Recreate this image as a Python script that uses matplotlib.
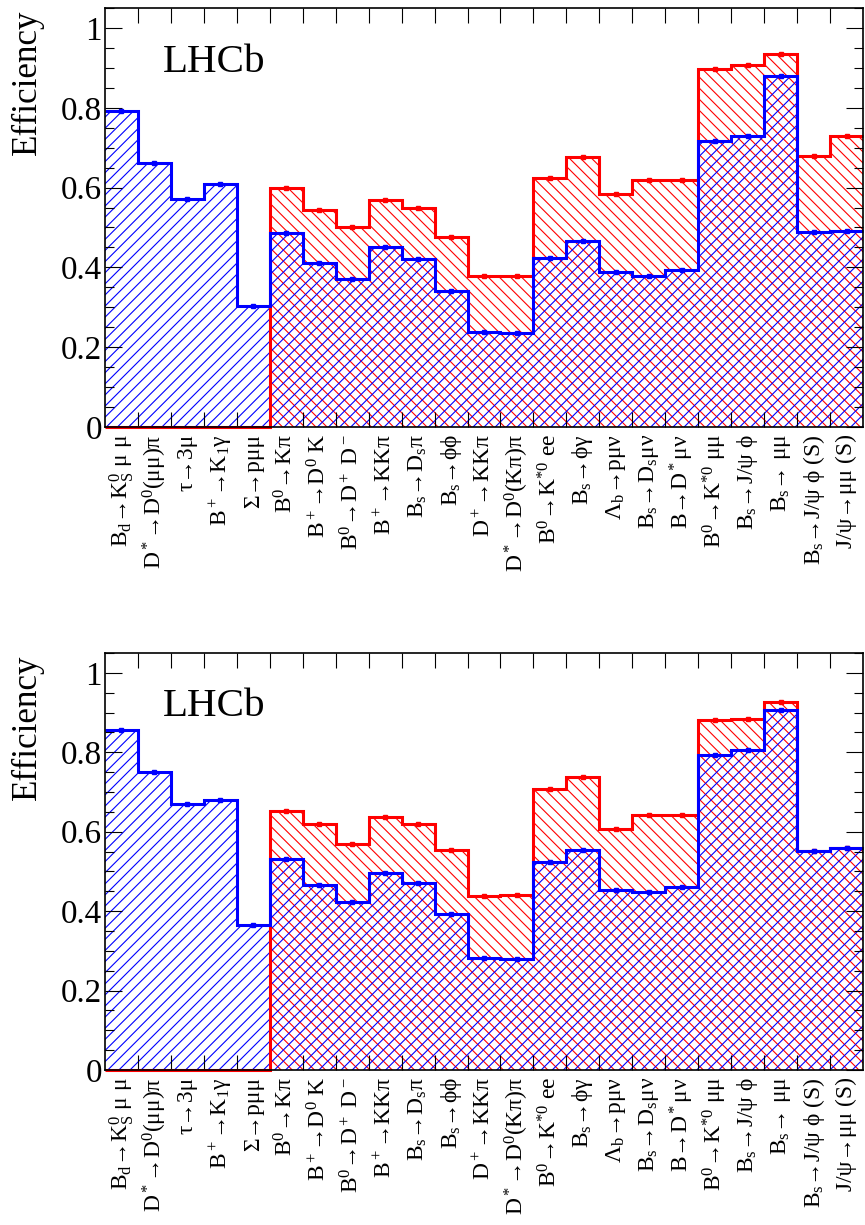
import matplotlib
matplotlib.use("Agg")
import matplotlib.pyplot as plt
import numpy as np
from matplotlib.ticker import FixedLocator, FuncFormatter, MultipleLocator

plt.rcParams['font.family'] = ['Liberation Serif', 'DejaVu Serif']
plt.rcParams['mathtext.fontset'] = 'custom'
plt.rcParams['mathtext.rm'] = 'Liberation Serif'
plt.rcParams['mathtext.it'] = 'Liberation Serif:italic'
plt.rcParams['mathtext.bf'] = 'Liberation Serif:bold'
plt.rcParams['hatch.linewidth'] = 0.8

labels = [
    r"$\mathrm{B}_\mathrm{d}$→$\mathrm{K}^0_\mathrm{S}$ μ μ",
    r"$\mathrm{D}^*$→$\mathrm{D}^0$(μμ)π",
    "τ→3μ",
    r"$\mathrm{B}^+$→$\mathrm{K}_1$γ",
    "Σ→pμμ",
    r"$\mathrm{B}^0$→Kπ",
    r"$\mathrm{B}^+$→$\mathrm{D}^0$ K",
    r"$\mathrm{B}^0$→$\mathrm{D}^+$ $\mathrm{D}^-$",
    r"$\mathrm{B}^+$→KKπ",
    r"$\mathrm{B}_\mathrm{s}$→$\mathrm{D}_\mathrm{s}$π",
    r"$\mathrm{B}_\mathrm{s}$→ϕϕ",
    r"$\mathrm{D}^+$→KKπ",
    r"$\mathrm{D}^*$→$\mathrm{D}^0$(Kπ)π",
    r"$\mathrm{B}^0$→$\mathrm{K}^{*0}$ ee",
    r"$\mathrm{B}_\mathrm{s}$→ϕγ",
    r"$\mathrm{Λ}_\mathrm{b}$→pμν",
    r"$\mathrm{B}_\mathrm{s}$→$\mathrm{D}_\mathrm{s}$μν",
    r"B→$\mathrm{D}^*$μν",
    r"$\mathrm{B}^0$→$\mathrm{K}^{*0}$ μμ",
    r"$\mathrm{B}_\mathrm{s}$→J/ψ ϕ",
    r"$\mathrm{B}_\mathrm{s}$→ μμ",
    r"$\mathrm{B}_\mathrm{s}$→J/ψ ϕ (S)",
    "J/ψ→μμ (S)",
]

blue_top = [0.792, 0.661, 0.571, 0.608, 0.302, 0.487, 0.411, 0.372, 0.451, 0.422, 0.342, 0.237,
            0.236, 0.423, 0.465, 0.388, 0.378, 0.393, 0.717, 0.730, 0.879, 0.488, 0.491]
red_top = [0.0, 0.0, 0.0, 0.0, 0.0, 0.600, 0.545, 0.500, 0.570, 0.549, 0.476, 0.378,
           0.378, 0.623, 0.677, 0.585, 0.619, 0.620, 0.898, 0.906, 0.934, 0.680, 0.729]

blue_bot = [0.856, 0.750, 0.669, 0.681, 0.365, 0.532, 0.465, 0.423, 0.497, 0.471, 0.394, 0.283,
            0.280, 0.524, 0.555, 0.454, 0.447, 0.462, 0.792, 0.807, 0.906, 0.551, 0.560]
red_bot = [0.0, 0.0, 0.0, 0.0, 0.0, 0.652, 0.620, 0.570, 0.638, 0.619, 0.555, 0.439,
           0.440, 0.708, 0.738, 0.606, 0.641, 0.642, 0.881, 0.885, 0.927, 0.551, 0.560]

ERR = 0.004
BLUE = '#0000ff'
RED = '#ff0000'

W, H = 865, 1225
fig = plt.figure(figsize=(W / 100, H / 100), dpi=100)


def px2pt(p):
    return p * 72 / 100


def yfmt(v, pos):
    if abs(v) < 1e-9:
        return '0'
    if abs(v - 1) < 1e-9:
        return '1'
    return f'{v:.1f}'


def panel(rect, blue, red, ylab_top_px):
    ax = fig.add_axes(rect)
    n = len(blue)
    edges = np.arange(n + 1)
    centers = edges[:-1] + 0.5
    blue = np.asarray(blue)
    red = np.asarray(red)

    ax.bar(centers, red, width=1.0, facecolor='none', edgecolor=RED, hatch='\\\\\\',
           linewidth=0, zorder=1)
    ax.bar(centers, blue, width=1.0, facecolor='none', edgecolor=BLUE, hatch='///',
           linewidth=0, zorder=1.1)
    ax.stairs(red, edges, baseline=None, color=RED, linewidth=2.2, zorder=3, clip_on=False)
    m = red > 0
    ax.errorbar(centers[m], red[m], yerr=ERR, fmt='s', color=RED, markersize=2.5,
                elinewidth=1.2, capsize=0, zorder=3.5)
    ax.stairs(blue, edges, baseline=None, color=BLUE, linewidth=2.2, zorder=4, clip_on=False)
    ax.errorbar(centers, blue, yerr=ERR, fmt='s', color=BLUE, markersize=2.5,
                elinewidth=1.2, capsize=0, zorder=4.5)

    ax.set_xlim(0, n)
    ax.set_ylim(0, 1.05)
    for s in ax.spines.values():
        s.set_linewidth(1.2)
        s.set_zorder(5)

    ax.xaxis.set_major_locator(FixedLocator(edges[1:-1]))
    ax.xaxis.set_major_formatter(FuncFormatter(lambda v, p: ''))
    ax.xaxis.set_minor_locator(FixedLocator(centers))
    ax.set_xticks(centers, labels, minor=True)
    ax.tick_params(axis='x', which='major', direction='in', top=True, bottom=True,
                   length=px2pt(15), width=0.8)
    ax.tick_params(axis='x', which='minor', length=0, pad=px2pt(7),
                   labelsize=px2pt(23.5), labelrotation=90)

    ax.yaxis.set_major_locator(MultipleLocator(0.2))
    ax.yaxis.set_minor_locator(MultipleLocator(0.05))
    ax.yaxis.set_major_formatter(FuncFormatter(yfmt))
    ax.tick_params(axis='y', which='major', direction='in', left=True, right=True,
                   length=px2pt(17), width=0.8, labelsize=px2pt(33), pad=px2pt(3))
    ax.tick_params(axis='y', which='minor', direction='in', left=True, right=True,
                   length=px2pt(9), width=0.8)

    ax.text(0.0765, 0.848, 'LHCb', transform=ax.transAxes, fontsize=px2pt(41),
            ha='left', va='baseline')
    fig.text(27 / W, 1 - ylab_top_px / H, 'Efficiency', rotation=90, ha='center', va='top',
             fontsize=px2pt(35))
    return ax


left = 105 / W
width = (863 - 105) / W
panel([left, 1 - 427 / H, width, (427 - 8) / H], blue_top, red_top, 10)
panel([left, 1 - 1070 / H, width, (1070 - 653) / H], blue_bot, red_bot, 655)

fig.savefig('out.png', dpi=100)
